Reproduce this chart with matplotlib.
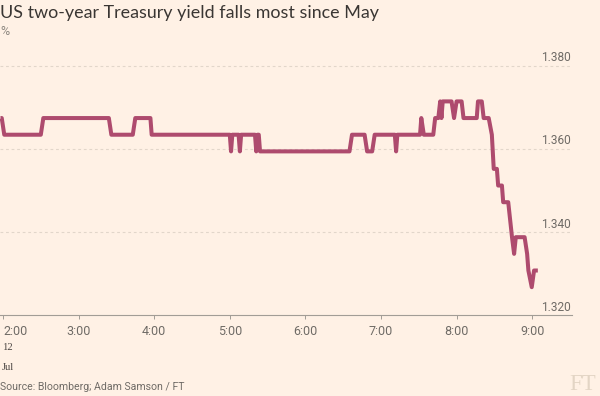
import matplotlib
matplotlib.use("Agg")
import matplotlib.pyplot as plt
import pandas as pd

# ---- data ----
times = [
    "01:58:00", "01:59:00", "02:01:00", "02:30:00", "02:32:00", "03:24:00", "03:26:00",
    "03:43:00", "03:45:00", "03:57:00", "03:58:00", "05:00:00", "05:01:00", "05:02:00",
    "05:07:00", "05:08:00", "05:09:00", "05:20:00", "05:21:00", "05:22:00", "05:23:00",
    "05:24:00", "06:35:00", "06:37:00", "06:47:00", "06:49:00", "06:53:00", "06:55:00",
    "07:11:00", "07:12:00", "07:13:00", "07:31:00", "07:32:00", "07:34:00", "07:41:30",
    "07:43:00", "07:45:30", "07:47:00", "07:48:00", "07:49:00", "07:56:00", "07:58:00",
    "08:00:00", "08:04:00", "08:05:30", "08:16:00", "08:17:00", "08:20:00", "08:21:30",
    "08:25:30", "08:28:00", "08:29:30", "08:32:00", "08:33:00", "08:36:00", "08:37:00",
    "08:41:00", "08:44:00", "08:45:40", "08:47:00", "08:54:00", "08:56:00", "08:57:00",
    "08:59:40", "09:01:30", "09:04:30",
]
yields = [
    1.3674, 1.3674, 1.3634, 1.3634, 1.3674, 1.3674, 1.3634,
    1.3634, 1.3674, 1.3674, 1.3634, 1.3634, 1.3594, 1.3634,
    1.3634, 1.3594, 1.3634, 1.3634, 1.3594, 1.3634, 1.3634,
    1.3594, 1.3594, 1.3634, 1.3634, 1.3594, 1.3594, 1.3634,
    1.3634, 1.3594, 1.3634, 1.3634, 1.3674, 1.3634, 1.3634,
    1.3674, 1.3674, 1.3714, 1.3674, 1.3714, 1.3714, 1.3674,
    1.3714, 1.3714, 1.3674, 1.3674, 1.3714, 1.3714, 1.3674,
    1.3674, 1.3634, 1.3552, 1.3552, 1.3512, 1.3512, 1.3472,
    1.3472, 1.3388, 1.3348, 1.3388, 1.3388, 1.3348, 1.3308,
    1.3268, 1.3308, 1.3308,
]
x_ticks = ["02:00", "03:00", "04:00", "05:00", "06:00", "07:00", "08:00", "09:00"]
x_tick_labels = ["2:00", "3:00", "4:00", "5:00", "6:00", "7:00", "8:00", "9:00"]
y_ticks = [1.320, 1.340, 1.360, 1.380]
y_tick_labels = ["1.320", "1.340", "1.360", "1.380"]
x_range = ["01:57:37", "09:31:36"]
y_range = [1.320, 1.3825]

title = "US two-year Treasury yield falls most since May"
unit = "%"
source = "Source: Bloomberg; Adam Samson / FT"

# ---- style ----
BG = "#fff1e5"
LINE = "#ae4b6e"
TXT = "#3a3633"
GREY = "#6f6b66"
GRID = "#e2d6ca"
AXIS = "#a29d96"
SANS = ["Roboto", "DejaVu Sans"]
SERIF = ["Liberation Serif", "DejaVu Serif"]

day = "2017-07-12 "
tx = pd.to_datetime([day + t for t in times])
xt = pd.to_datetime([day + t for t in x_ticks])
xr = pd.to_datetime([day + t for t in x_range])

fig = plt.figure(figsize=(6.0, 3.96), dpi=100, facecolor=BG)
ax = fig.add_axes([0.0, 0.2033, 0.9533, 0.6574])
ax.set_facecolor(BG)

ax.plot(tx, yields, color=LINE, lw=2.9, solid_joinstyle="round",
        solid_capstyle="butt", zorder=3)

ax.set_xlim(xr[0], xr[1])
ax.set_ylim(*y_range)

for s in ["top", "right", "left"]:
    ax.spines[s].set_visible(False)
ax.spines["bottom"].set_color(AXIS)
ax.spines["bottom"].set_linewidth(0.8)

ax.set_yticks([])
for v, lab in zip(y_ticks, y_tick_labels):
    if v > y_range[0]:
        ax.axhline(v, color=GRID, lw=0.8, ls=(0, (2.5, 2.5)), zorder=1)
    ax.annotate(lab, xy=(1, v), xycoords=("axes fraction", "data"),
                xytext=(-1.5, 4.5), textcoords="offset pixels",
                ha="right", va="baseline", fontsize=8.6, color=GREY,
                family=SANS)

ax.set_xticks(xt)
ax.set_xticklabels(x_tick_labels)
ax.tick_params(axis="x", direction="out", length=3, width=0.7, color=AXIS,
               pad=4, labelsize=9, labelcolor=GREY)
for t in ax.get_xticklabels():
    t.set_family(SANS)
ax.get_xticklabels()[0].set_ha("left")

fig.text(0.0, 1 - 18.3 / 396, title, fontsize=12.9, color=TXT,
         family=["Lato", "Roboto", "DejaVu Sans"], fontweight="normal",
         ha="left", va="baseline")
fig.text(0.0, 1 - 35 / 396, unit, fontsize=9, color="#8d8780", family=SANS,
         ha="left", va="baseline")
fig.text(2 / 600, 1 - 349.5 / 396, "12", fontsize=7.6, color="#4a4542",
         family=SERIF, ha="left", va="baseline")
fig.text(2 / 600, 1 - 369.5 / 396, "Jul", fontsize=7.6, color="#4a4542",
         family=SERIF, ha="left", va="baseline")
fig.text(0.0, 1 - 390 / 396, source, fontsize=7.6, color=GREY, family=SANS,
         ha="left", va="baseline")
fig.text(596 / 600, 1.5 / 396, "FT", fontsize=16.5, color="#e3d5c5",
         family=SERIF, ha="right", va="bottom")

fig.savefig("out.png", dpi=100, facecolor=BG)
